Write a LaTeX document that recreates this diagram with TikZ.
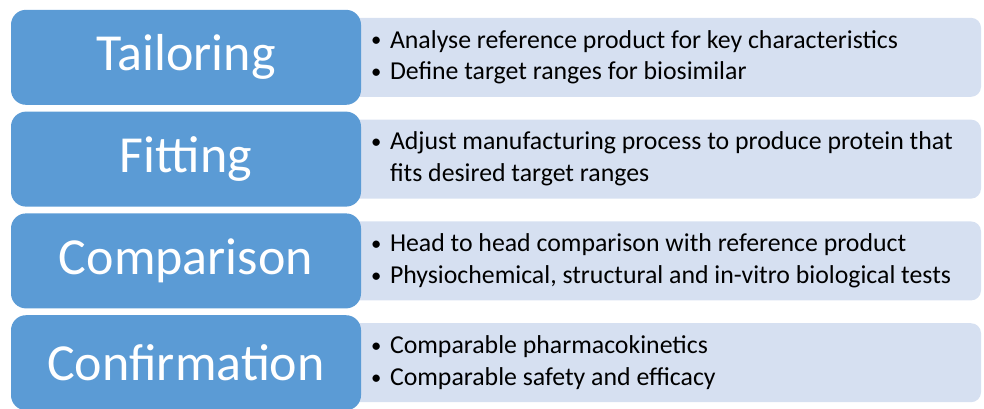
\documentclass[tikz,border=0pt]{standalone}
\usepackage{fontspec}
\setmainfont{Carlito}
\usetikzlibrary{positioning}
\definecolor{headblue}{HTML}{5B9BD5}
\definecolor{infoblue}{HTML}{D6E0F1}
\newcommand{\bul}[1]{\par\noindent\hangindent=21pt\hangafter=1\makebox[21pt][l]{\hspace{2pt}\raisebox{1.2pt}{\scalebox{0.8}{\textbullet}}}#1}
\newcommand{\infotext}[1]{\parbox{600pt}{\raggedright\leftskip=8pt\parskip=0pt #1}}

\begin{document}
\begin{tikzpicture}[node distance=101.8pt,on grid,
  head/.style={rectangle,rounded corners=15pt,fill=headblue,text=white,
    minimum width=350pt,minimum height=95pt,font=\fontsize{52}{56}\selectfont},
  info/.style={rectangle,rounded corners=10pt,fill=infoblue,minimum width=640pt,
    minimum height=79pt,inner xsep=0pt,font=\fontsize{25.8}{31.7}\selectfont}]
\useasboundingbox (0,0) rectangle (984pt,-408pt);

% detail boxes, behind the headings
\node[info] (d1) at (661pt,-57.3pt) {\infotext{\bul{Analyse reference product for key characteristics}\bul{Define target ranges for biosimilar}}};
\node[info] (d2) [below=of d1] {\infotext{\bul{Adjust manufacturing process to produce protein that\newline fits desired target ranges}}};
\node[info] (d3) [below=of d2] {\infotext{\bul{Head to head comparison with reference product}\bul{Physiochemical, structural and in-vitro biological tests}}};
\node[info] (d4) [below=of d3] {\infotext{\bul{Comparable pharmacokinetics}\bul{Comparable safety and efficacy}}};

% headings
\node[head] (tail) [left=475pt of d1] {Tailoring};
\node[head] (fit) [below=of tail] {Fitting};
\node[head] (comp) [below=of fit] {Comparison};
\node[head] (conf) [below=of comp] {Confirmation};
\end{tikzpicture}
\end{document}
